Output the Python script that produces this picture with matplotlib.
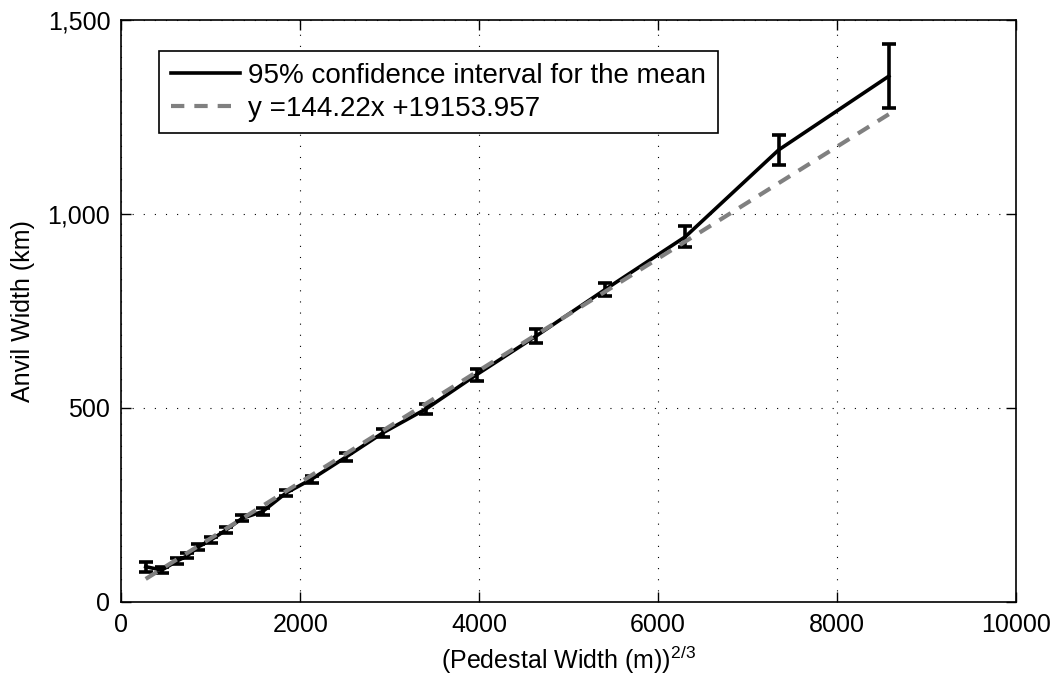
import matplotlib
matplotlib.use("Agg")
import matplotlib.pyplot as plt
import numpy as np
from matplotlib.ticker import FuncFormatter

# Binned means of anvil width against (pedestal width)^(2/3)
pedestal_x = [271, 450, 625, 736, 860, 1002, 1166, 1352, 1578, 1841,
              2129, 2513, 2923, 3408, 3971, 4639, 5411, 6307, 7351, 8582]
anvil_mean = [90, 81, 105, 118, 141, 159, 184, 215, 232, 280,
              316, 373, 435, 497, 585, 685, 805, 941, 1165, 1355]
anvil_ci = [13, 8, 7, 7, 7, 7, 7, 8, 8, 8,
            9, 10, 11, 13, 15, 17, 17, 27, 39, 82]

# Linear fit (y in metres)
fit_slope = 144.22
fit_intercept = 19153.957

x_ticks = [0, 2000, 4000, 6000, 8000, 10000]
y_ticks = [0, 500, 1000, 1500]

plt.rcParams['font.family'] = ['Liberation Sans', 'DejaVu Sans']
plt.rcParams['mathtext.fontset'] = 'custom'
plt.rcParams['mathtext.rm'] = 'Liberation Sans'
plt.rcParams['mathtext.it'] = 'Liberation Sans:italic'
plt.rcParams['mathtext.bf'] = 'Liberation Sans:bold'

fig = plt.figure(figsize=(10.59, 6.82), dpi=100)
ax = fig.add_axes([0.1147, 0.118, 0.8443, 0.8527])

px = np.array(pedestal_x, dtype=float)
fit_x = np.array([px.min(), px.max()])
fit_y = (fit_slope * fit_x + fit_intercept) / 1000.0

ax.errorbar(pedestal_x, anvil_mean, yerr=anvil_ci, fmt='none', ecolor='black',
            elinewidth=2.6, capsize=5, capthick=2.6, zorder=3)
ax.plot(pedestal_x, anvil_mean, color='black', lw=2.6, zorder=3,
        label='95% confidence interval for the mean')
ax.plot(fit_x, fit_y, color='#808080', lw=3, dashes=(3.2, 2.4), zorder=4,
        label='y =144.22x +19153.957')

ax.set_xlim(0, 10000)
ax.set_ylim(0, 1500)
ax.set_xticks(x_ticks)
ax.set_yticks(y_ticks)
ax.yaxis.set_major_formatter(FuncFormatter(lambda v, p: f'{int(v):,}'))
ax.tick_params(direction='in', length=7, width=1, labelsize=18,
               top=True, right=True, pad=8)
ax.grid(True, color='black', linestyle=(0, (1, 9)), linewidth=0.8)
for s in ax.spines.values():
    s.set_linewidth(1.2)

ax.set_xlabel(r'(Pedestal Width (m))$^{2/3}$', fontsize=18, labelpad=5)
ax.set_ylabel('Anvil Width (km)', fontsize=18, labelpad=9)

leg = ax.legend(loc='upper left', bbox_to_anchor=(0.042, 0.9467),
                borderaxespad=0, fontsize=20, handlelength=2.5,
                handletextpad=0.3, fancybox=False, framealpha=1,
                edgecolor='black', borderpad=0.42, labelspacing=0.25)
leg.get_frame().set_linewidth(1.2)

fig.savefig('out.png', dpi=100)
